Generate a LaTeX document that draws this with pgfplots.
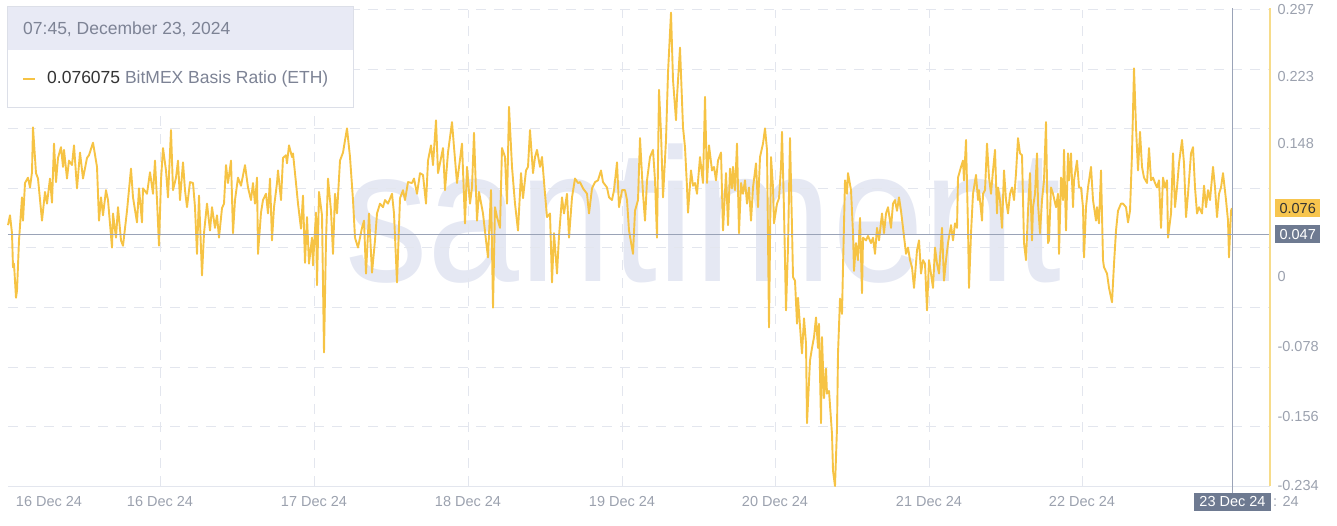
\documentclass[border=0pt]{standalone}
\usepackage{pgfplots}
\pgfplotsset{compat=1.18}
\usepackage{fontspec}
\setmainfont{Liberation Sans}
\definecolor{lineY}{HTML}{F6C344}
\definecolor{axisY}{HTML}{F7DC8A}
\definecolor{gridc}{HTML}{E3E6EE}
\definecolor{tickc}{HTML}{9BA1AE}
\definecolor{wm}{HTML}{E5E8F3}
\definecolor{slate}{HTML}{6E7A91}
\definecolor{crossc}{HTML}{9AA3B7}
\definecolor{hdr}{HTML}{E8EAF5}
\definecolor{hdrtext}{HTML}{7D8395}
\definecolor{boxline}{HTML}{DCDFE8}
\definecolor{badgeY}{HTML}{F7C54E}
\begin{document}
\begin{tikzpicture}[x=1pt,y=1pt]
\useasboundingbox (0,0) rectangle (1337,525);
% watermark
\node[anchor=base west, inner sep=0, text=wm, font=\fontsize{190}{190}\selectfont] at (345,243) {\scalebox{0.87}[1]{santiment}};
\begin{axis}[
  at={(8pt,39pt)}, anchor=south west, scale only axis,
  width=1262pt, height=476pt,
  xmin=8, xmax=1270, ymin=-0.234, ymax=0.297,
  clip=false,
  axis line style={draw=none},
  major tick length=0pt,
  xtick={160,314,468,622,775,929,1082},
  xticklabels={16 Dec 24,17 Dec 24,18 Dec 24,19 Dec 24,20 Dec 24,21 Dec 24,22 Dec 24},
  extra x ticks={49},
  extra x tick labels={16 Dec 24},
  extra x tick style={grid=none},
  xmajorgrids,
  major grid style={gridc, line width=1pt, dash pattern=on 10pt off 8pt},
  xticklabel style={anchor=base, yshift=-20pt, text=tickc, font=\fontsize{14.5}{17}\selectfont},
  ytick={-0.234,-0.156,-0.078,0,0.148,0.223,0.297},
  yticklabels={-0.234,-0.156,-0.078,0,0.148,0.223,0.297},
  yticklabel pos=right,
  yticklabel style={anchor=west, xshift=4pt, text=tickc, font=\fontsize{14.5}{17}\selectfont},
  extra y ticks={0.297,0.2306,0.1643,0.0979,0.0315,-0.0349,-0.1013,-0.1676},
  extra y tick labels={},
  extra y tick style={grid=major},
]
\draw[gridc, line width=1pt] (axis cs:8,-0.234) -- (axis cs:1270,-0.234);
\addplot[lineY, line width=1.9pt, line join=round] coordinates {
(8,0.057)(10,0.068)(12,0.048)(13,0.010)(14,0.014)(16,-0.024)(17,-0.016)(19,0.040)(22,0.088)(23,0.062)
(25,0.104)(28,0.110)(30,0.099)(32,0.116)(33,0.166)(36,0.115)(38,0.109)(42,0.062)(45,0.094)(47,0.081)
(50,0.109)(52,0.082)(54,0.148)(56,0.105)(58,0.132)(61,0.144)(63,0.122)(64,0.141)(67,0.109)(69,0.129)
(72,0.124)(74,0.146)(77,0.098)(80,0.138)(83,0.109)(87,0.132)(89,0.135)(93,0.149)(97,0.122)(99,0.062)
(101,0.088)(103,0.068)(106,0.096)(108,0.085)(112,0.032)(113,0.070)(116,0.043)(118,0.077)(121,0.040)(123,0.034)
(127,0.073)(131,0.120)(133,0.088)(137,0.060)(139,0.098)(142,0.060)(143,0.098)(147,0.092)(150,0.116)(153,0.092)
(155,0.129)(157,0.085)(159,0.034)(161,0.107)(163,0.143)(166,0.118)(168,0.088)(171,0.163)(173,0.096)(176,0.110)
(178,0.129)(180,0.085)(183,0.127)(185,0.096)(187,0.077)(190,0.105)(193,0.104)(195,0.077)(197,0.025)(199,0.090)
(202,0.001)(204,0.048)(207,0.081)(210,0.051)(212,0.077)(215,0.054)(217,0.068)(219,0.043)(222,0.076)(224,0.081)
(226,0.124)(228,0.104)(231,0.129)(233,0.048)(235,0.085)(238,0.110)(241,0.101)(245,0.124)(248,0.099)(251,0.085)
(253,0.104)(255,0.081)(257,0.110)(258,0.025)(261,0.071)(263,0.085)(266,0.092)(268,0.070)(270,0.109)(272,0.040)
(274,0.077)(277,0.104)(278,0.118)(281,0.085)(283,0.132)(286,0.135)(287,0.126)(289,0.146)(292,0.133)(293,0.137)
(296,0.104)(298,0.081)(301,0.053)(303,0.090)(305,0.015)(307,0.066)(309,0.014)(312,0.043)(313,0.012)(316,0.071)
(317,-0.010)(319,0.094)(322,0.068)(324,-0.085)(326,0.040)(328,0.109)(331,0.073)(333,0.025)(335,0.092)(337,0.070)
(340,0.129)(343,0.138)(347,0.165)(350,0.133)(353,0.085)(355,0.043)(358,0.032)(362,0.054)(364,0.062)(366,0.003)
(369,0.070)(372,0.004)(375,0.040)(377,0.070)(380,0.081)(383,0.077)(385,0.085)(388,0.081)(392,0.092)(394,0.070)
(397,-0.007)(400,0.087)(403,0.096)(405,0.085)(408,0.105)(412,0.104)(414,0.109)(417,0.092)(420,0.115)(423,0.113)
(426,0.081)(428,0.129)(431,0.146)(433,0.124)(436,0.174)(438,0.115)(440,0.126)(443,0.143)(445,0.096)(448,0.138)
(452,0.172)(454,0.144)(457,0.104)(462,0.148)(465,0.059)(467,0.122)(470,0.081)(472,0.099)(474,0.160)(477,0.062)
(479,0.094)(483,0.070)(486,0.040)(488,0.021)(491,0.096)(493,-0.035)(495,0.077)(497,0.066)(500,0.054)(502,0.143)
(505,0.133)(507,0.081)(509,0.189)(512,0.122)(515,0.081)(518,0.051)(521,0.115)(523,0.087)(526,0.118)(528,0.122)
(530,0.163)(533,0.115)(535,0.133)(537,0.141)(540,0.122)(542,0.133)(545,0.092)(547,0.066)(550,0.070)(552,-0.007)
(554,0.048)(557,0.003)(559,0.045)(562,0.088)(564,0.070)(567,0.092)(569,0.043)(572,0.088)(575,0.109)(578,0.104)
(580,0.105)(583,0.098)(587,0.092)(589,0.070)(592,0.098)(595,0.105)(598,0.107)(601,0.118)(603,0.105)(607,0.099)
(609,0.088)(612,0.085)(614,0.096)(617,0.127)(619,0.077)(622,0.096)(625,0.096)(627,0.085)(629,0.051)(633,0.025)
(635,0.073)(638,0.085)(640,0.154)(643,0.092)(645,0.062)(647,0.107)(650,0.133)(653,0.141)(655,0.107)(657,0.043)
(659,0.208)(661,0.160)(663,0.088)(666,0.152)(668,0.227)(671,0.294)(673,0.219)(676,0.174)(677,0.200)(680,0.255)
(683,0.166)(685,0.144)(687,0.099)(688,0.071)(691,0.118)(693,0.101)(695,0.104)(697,0.092)(700,0.133)(703,0.104)
(705,0.200)(707,0.104)(709,0.146)(712,0.118)(714,0.122)(716,0.107)(718,0.129)(721,0.138)(723,0.051)(726,0.115)
(728,0.057)(730,0.120)(732,0.098)(733,0.122)(735,0.096)(737,0.148)(739,0.048)(741,0.104)(743,0.092)(745,0.107)
(747,0.081)(749,0.099)(751,0.062)(753,0.099)(756,0.126)(758,0.077)(760,0.133)(763,0.148)(765,0.165)(767,0.141)
(769,-0.057)(771,0.133)(773,0.099)(774,0.059)(777,0.081)(779,0.087)(781,0.122)(782,0.161)(784,0.073)(786,-0.038)
(788,0.032)(790,0.154)(792,0.054)(793,-0.001)(795,-0.005)(797,-0.053)(798,-0.024)(801,-0.072)(802,-0.086)(804,-0.047)
(806,-0.075)(807,-0.164)(810,-0.094)(812,-0.080)(814,-0.068)(816,-0.046)(818,-0.080)(819,-0.053)(821,-0.164)(822,-0.068)
(824,-0.136)(826,-0.103)(827,-0.131)(829,-0.128)(832,-0.176)(833,-0.217)(835,-0.234)(837,-0.169)(838,-0.086)(840,-0.025)
(842,-0.042)(843,0.010)(845,0.107)(847,0.092)(848,0.115)(851,0.096)(853,0.048)(854,0.006)(856,0.037)(858,0.018)
(860,0.065)(862,-0.019)(863,0.043)(866,0.040)(868,0.045)(871,0.037)(873,0.043)(875,0.025)(877,0.054)(879,0.040)
(882,0.070)(884,0.048)(886,0.070)(888,0.077)(891,0.054)(893,0.081)(895,0.085)(897,0.073)(899,0.088)(901,0.073)
(903,0.054)(906,0.025)(908,0.032)(910,0.018)(912,0.010)(914,-0.013)(917,0.029)(919,0.040)(921,0.003)(923,0.018)
(925,0.014)(927,-0.038)(929,0.018)(933,-0.013)(935,0.032)(937,0.014)(939,0.003)(942,0.054)(944,-0.005)(946,0.018)
(948,0.037)(951,0.057)(953,0.040)(955,0.059)(957,0.054)(958,0.110)(961,0.122)(963,0.129)(964,0.107)(966,0.152)
(968,0.054)(969,-0.013)(971,0.048)(973,0.092)(976,0.113)(978,0.085)(979,0.096)(982,0.062)(983,0.092)(985,0.096)
(987,0.148)(989,0.110)(991,0.092)(993,0.118)(995,0.141)(997,0.070)(998,0.099)(1000,0.085)(1002,0.054)(1004,0.118)
(1006,0.085)(1008,0.070)(1010,0.092)(1012,0.099)(1014,0.085)(1016,0.115)(1018,0.154)(1020,0.137)(1022,0.135)(1024,0.037)
(1026,0.018)(1028,0.073)(1030,0.115)(1032,0.040)(1033,0.077)(1035,0.092)(1037,0.137)(1038,0.081)(1040,0.048)(1042,0.085)
(1044,0.107)(1046,0.172)(1048,0.037)(1049,0.040)(1051,0.099)(1053,0.092)(1056,0.077)(1058,0.092)(1059,0.025)(1061,0.110)
(1063,0.085)(1064,0.141)(1066,0.051)(1068,0.137)(1069,0.107)(1071,0.137)(1073,0.077)(1074,0.107)(1077,0.129)(1079,0.099)
(1081,0.099)(1083,0.077)(1084,0.021)(1086,0.077)(1088,0.099)(1091,0.122)(1093,0.085)(1096,0.062)(1097,0.077)(1099,0.059)
(1101,0.118)(1103,0.018)(1104,0.010)(1107,0.003)(1109,-0.013)(1112,-0.029)(1114,0.014)(1116,0.051)(1118,0.073)(1121,0.081)
(1123,0.081)(1126,0.077)(1128,0.060)(1130,0.073)(1132,0.137)(1134,0.232)(1136,0.166)(1138,0.118)(1140,0.161)(1142,0.122)
(1144,0.110)(1147,0.104)(1149,0.143)(1151,0.107)(1153,0.110)(1155,0.104)(1157,0.099)(1159,0.107)(1161,0.054)(1163,0.110)
(1165,0.099)(1167,0.107)(1168,0.043)(1171,0.070)(1173,0.137)(1175,0.077)(1177,0.099)(1179,0.126)(1182,0.152)(1184,0.126)
(1186,0.066)(1188,0.092)(1191,0.137)(1193,0.144)(1195,0.099)(1197,0.070)(1199,0.077)(1202,0.070)(1204,0.101)(1206,0.077)
(1208,0.096)(1210,0.085)(1213,0.122)(1215,0.099)(1217,0.066)(1219,0.092)(1221,0.099)(1223,0.115)(1226,0.085)(1228,0.062)
(1229,0.021)(1231,0.073)(1232,0.076)
};
% current-value line and crosshair
\draw[crossc, line width=1pt] (axis cs:8,0.047) -- (axis cs:1270,0.047);
\draw[crossc, line width=1pt] (axis cs:1232,0.299) -- (axis cs:1232,-0.242);
\draw[axisY, line width=1.6pt] (axis cs:1270,0.299) -- (axis cs:1270,-0.234);
\node[anchor=west, xshift=5pt, fill=badgeY, text=black!80, inner sep=0pt, minimum width=45pt, minimum height=18pt, font=\fontsize{14.5}{17}\selectfont] at (axis cs:1270,0.076) {0.076};
\node[anchor=west, xshift=5pt, fill=slate, text=white, inner sep=0pt, minimum width=45pt, minimum height=18pt, font=\fontsize{14.5}{17}\selectfont] at (axis cs:1270,0.047) {0.047};
\end{axis}
% date badge and the visible tail of the hidden last date label
\node[fill=slate, text=white, inner sep=0pt, minimum width=77pt, minimum height=18pt, font=\fontsize{14.5}{17}\selectfont] at (1232.5,23) {23 Dec 24};
\node[anchor=base west, inner sep=0pt, text=tickc, font=\fontsize{14.5}{17}\selectfont] at (1273,18.5) {: 24};
% legend box
\draw[boxline, fill=white, line width=1pt] (7,417) rectangle (353,518);
\fill[hdr] (7.5,475) rectangle (352.5,517.5);
\node[anchor=west, inner sep=0pt, text=hdrtext, font=\fontsize{17.5}{20}\selectfont] at (23,496) {07:45, December 23, 2024};
\draw[lineY, line width=2.5pt] (23,446) -- (35,446);
\node[anchor=west, inner sep=0pt, font=\fontsize{17.5}{20}\selectfont] at (47,446) {\textcolor{black!80}{0.076075} \textcolor{hdrtext}{BitMEX Basis Ratio (ETH)}};
\end{tikzpicture}
\end{document}
